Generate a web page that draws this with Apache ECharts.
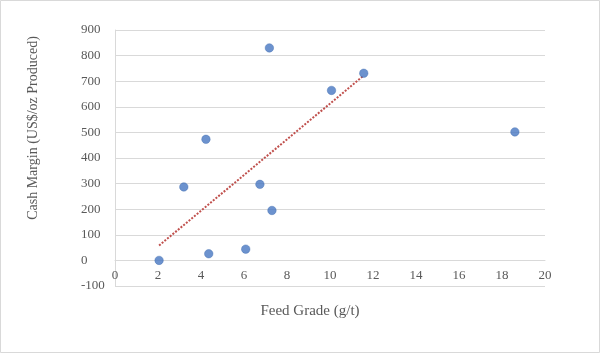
<!DOCTYPE html>
<html><head><meta charset="utf-8">
<script src="https://cdn.jsdelivr.net/npm/echarts@6/dist/echarts.min.js"></script>
<style>html,body{margin:0;padding:0;background:#fff}#c{width:600px;height:353px}</style>
</head><body><div id="c"></div>
<script>
var feedGrade = [2.05, 3.2, 4.23, 4.36, 6.08, 6.74, 7.18, 7.3, 10.07, 11.57, 18.6];
var cashMargin = [0, 287, 473, 26, 44, 297, 830, 195, 664, 731, 502];
var trendX = [2.05, 11.57];
var trendY = [58, 722];
var xTicks = [0, 2, 4, 6, 8, 10, 12, 14, 16, 18, 20];
var yTicks = [-100, 0, 100, 200, 300, 400, 500, 600, 700, 800, 900];
var xTitle = 'Feed Grade (g/t)';
var yTitle = 'Cash Margin (US$/oz Produced)';

var pts = feedGrade.map(function(x, i){ return [x, cashMargin[i]]; });
var trend = trendX.map(function(x, i){ return [x, trendY[i]]; });
var font = 'Liberation Serif';
var gridTop = 30, gridBottom = 67, H = 353;
var plotH = H - gridTop - gridBottom;
var yMin = yTicks[0], yMax = yTicks[yTicks.length-1];
// shift the x axis up so it sits on y = 0
var zeroShift = plotH * (0 - yMin) / (yMax - yMin);
var chart = echarts.init(document.getElementById('c'), null, {renderer:'canvas'});
chart.setOption({
  animation: false,
  backgroundColor: '#fff',
  graphic: [
    {type:'rect', shape:{x:0.5,y:0.5,width:599,height:352}, style:{fill:'none', stroke:'#d9d9d9', lineWidth:1}, silent:true},
    {type:'text', x:310, y:311, style:{text:xTitle, fontFamily:font, fontSize:15, fill:'#595959', align:'center', verticalAlign:'middle'}, silent:true},
    {type:'text', x:33, y:128, rotation:Math.PI/2, style:{text:yTitle, fontFamily:font, fontSize:14, fill:'#595959', align:'center', verticalAlign:'middle'}, silent:true}
  ],
  grid: {left:115, right:55, top:gridTop, bottom:gridBottom, outerBoundsMode:'none', containLabel:false},
  xAxis: {
    type:'value', min:xTicks[0], max:xTicks[xTicks.length-1], interval:2,
    offset: -zeroShift,
    axisLine:{show:true, onZero:false, lineStyle:{color:'#d9d9d9', width:1}},
    axisTick:{show:false},
    splitLine:{show:false},
    axisLabel:{fontFamily:font, fontSize:13, color:'#595959', margin:9}
  },
  yAxis: {
    type:'value', min:yMin, max:yMax, interval:100,
    axisLine:{show:true, onZero:false, lineStyle:{color:'#d9d9d9', width:1}},
    axisTick:{show:false},
    splitLine:{show:true, lineStyle:{color:'#d9d9d9', width:1}},
    axisLabel:{fontFamily:font, fontSize:13, color:'#595959', margin:34, align:'left'}
  },
  series: [
    {type:'line', data:trend, symbol:'none', z:2,
     lineStyle:{color:'#C0504D', width:2, type:[2,1.5]}},
    {type:'scatter', data:pts, symbolSize:8.5, z:3,
     itemStyle:{color:'#4777C2', borderColor:'#3F6BAF', borderWidth:0.5}}
  ]
});
</script></body></html>
